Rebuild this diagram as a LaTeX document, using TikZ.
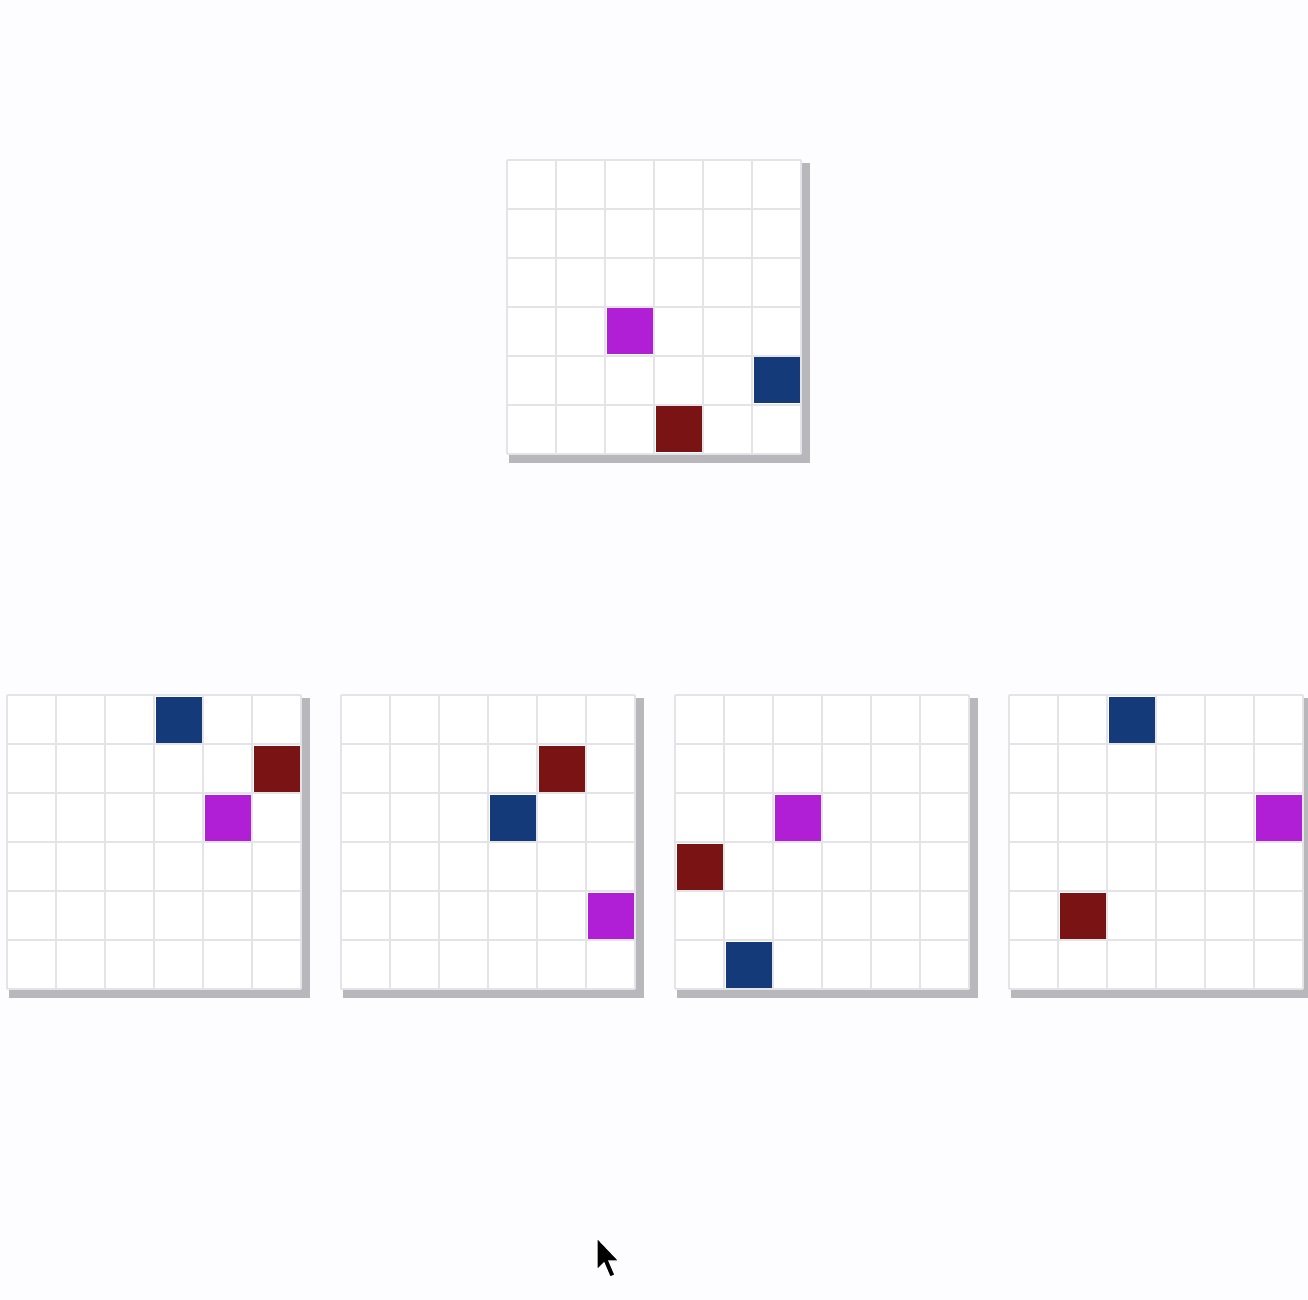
\documentclass[tikz,border=0pt]{standalone}
\definecolor{bg}{RGB}{253,252,254}
\definecolor{shadowgray}{RGB}{184,184,188}
\definecolor{gridgray}{RGB}{228,228,232}
\definecolor{cmag}{RGB}{176,30,214}
\definecolor{cblue}{RGB}{20,58,122}
\definecolor{cred}{RGB}{122,20,20}
\tikzset{
  gridline/.style={draw=gridgray, line width=1pt},
  panelshadow/.style={fill=shadowgray},
  cellbox/.style={fill=#1}
}
\newcommand\gridpanel[2]{%
  \fill[panelshadow] (#1+2,#2+3) rectangle (#1+303,#2+303);
  \fill[white] (#1,#2) rectangle (#1+294,#2+294);
  \foreach \i in {0,...,6}{
    \draw[gridline] (#1+49*\i,#2) -- (#1+49*\i,#2+294);
    \draw[gridline] (#1,#2+49*\i) -- (#1+294,#2+49*\i);
  }
}
\newcommand\fillcell[5]{%
  \fill[cellbox=#5] (#1+49*#3+1.5,#2+49*#4+1.5) rectangle ++(46,46);
}
\begin{document}
\begin{tikzpicture}[x=0.5pt,y=-0.5pt]
\fill[bg] (0,0) rectangle (1308,1300);
\useasboundingbox (0,0) rectangle (1308,1300);
% top panel
\gridpanel{507}{160}
\fillcell{507}{160}{2}{3}{cmag}
\fillcell{507}{160}{5}{4}{cblue}
\fillcell{507}{160}{3}{5}{cred}
% bottom panel 1
\gridpanel{7}{695}
\fillcell{7}{695}{3}{0}{cblue}
\fillcell{7}{695}{5}{1}{cred}
\fillcell{7}{695}{4}{2}{cmag}
% bottom panel 2
\gridpanel{341}{695}
\fillcell{341}{695}{4}{1}{cred}
\fillcell{341}{695}{3}{2}{cblue}
\fillcell{341}{695}{5}{4}{cmag}
% bottom panel 3
\gridpanel{675}{695}
\fillcell{675}{695}{2}{2}{cmag}
\fillcell{675}{695}{0}{3}{cred}
\fillcell{675}{695}{1}{5}{cblue}
% bottom panel 4
\gridpanel{1009}{695}
\fillcell{1009}{695}{2}{0}{cblue}
\fillcell{1009}{695}{5}{2}{cmag}
\fillcell{1009}{695}{1}{4}{cred}
% cursor
\fill[black, draw=white, line width=0.6pt, line join=miter]
  (597,1238) -- (597,1270) -- (604,1263) -- (610,1277) -- (615,1275) -- (609,1261) -- (619,1261) -- cycle;
\end{tikzpicture}
\end{document}
